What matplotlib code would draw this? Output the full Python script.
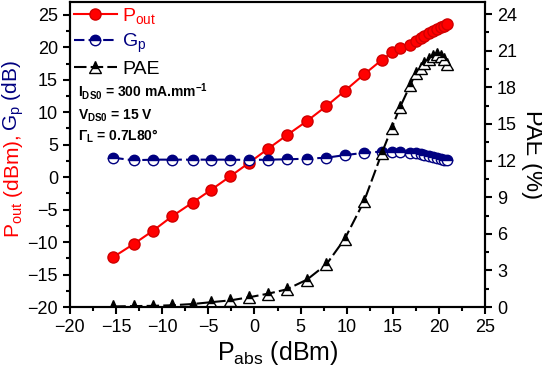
import matplotlib
matplotlib.use('Agg')
import matplotlib.pyplot as plt
from matplotlib.ticker import MultipleLocator

plt.rcParams['font.family'] = ['Liberation Sans', 'DejaVu Sans']
plt.rcParams['mathtext.fontset'] = 'custom'
plt.rcParams['mathtext.rm'] = 'Liberation Sans'
plt.rcParams['mathtext.it'] = 'Liberation Sans'
plt.rcParams['mathtext.bf'] = 'Liberation Sans:bold'

# datos
p_abs = [-15.3, -13.1, -11.0, -8.9, -6.7, -4.7, -2.6, -0.6, 1.5, 3.5, 5.7, 7.8, 9.8,
         11.9, 13.8, 14.9, 15.8, 16.9, 17.5, 18.0, 18.4, 18.9, 19.3, 19.8, 20.2, 20.5, 20.9]
p_out = [-12.3, -10.3, -8.25, -6.0, -3.9, -1.95, 0.15, 2.2, 4.4, 6.45, 8.65, 10.95, 13.3,
         15.85, 18.05, 19.2, 19.85, 20.4, 21.0, 21.4, 21.8, 22.15, 22.55, 22.85, 23.1, 23.35, 23.55]
g_p = [3.0, 2.6, 2.7, 2.7, 2.7, 2.7, 2.7, 2.65, 2.7, 2.75, 2.85, 3.0, 3.4,
       3.75, 3.95, 3.95, 3.9, 3.8, 3.65, 3.5, 3.35, 3.2, 3.05, 2.95, 2.8, 2.7, 2.6]
pae = [0.05, 0.08, 0.1, 0.15, 0.25, 0.4, 0.55, 0.8, 1.1, 1.45, 2.25, 3.5, 5.6,
       8.7, 12.6, 14.7, 16.4, 18.2, 19.2, 19.6, 20.0, 20.3, 20.6, 20.7, 20.6, 20.3, 19.9]

fig = plt.figure(figsize=(5.42, 3.66), dpi=100)
ax = fig.add_axes([0.129, 0.161, 0.766, 0.834])
ax2 = ax.twinx()

l1, = ax.plot(p_abs, p_out, color='red', lw=1.5, marker='o', ms=8,
              mfc='red', mec='#d00000', label='P$_{out}$')
l2, = ax.plot(p_abs, g_p, color='navy', lw=1.5, ls=(0, (5, 2)), marker='o', ms=7.5,
              fillstyle='top', mfc='navy', mfcalt='white', mec='navy', label='G$_p$')
l3, = ax2.plot(p_abs, pae, color='black', lw=1.5, ls=(0, (6, 2)), marker='^', ms=8,
               fillstyle='top', mfc='black', mfcalt='white', mec='black', label='PAE')

ax.set_xlim(-20, 25)
ax.set_ylim(-20, 27)
ax2.set_ylim(0, 25)
ax.xaxis.set_major_locator(MultipleLocator(5))
ax.xaxis.set_minor_locator(MultipleLocator(2.5))
ax.yaxis.set_major_locator(MultipleLocator(5))
ax.yaxis.set_minor_locator(MultipleLocator(2.5))
ax2.yaxis.set_major_locator(MultipleLocator(3))
ax2.yaxis.set_minor_locator(MultipleLocator(1.5))

for a in (ax, ax2):
    a.tick_params(which='major', length=5, width=1.5, labelsize=13)
    a.tick_params(which='minor', length=3, width=1.5)
    for s in a.spines.values():
        s.set_linewidth(1.5)

ax.set_xlabel('P$_{abs}$ (dBm)', fontsize=18, labelpad=2)
ax2.set_ylabel('PAE (%)', fontsize=17, rotation=-90, labelpad=19)

# etiqueta del eje izquierdo en dos colores
t_red = fig.text(0.025, 0.35, 'P$_{out}$ (dBm),', color='red', fontsize=15,
                 rotation=90, ha='center', va='bottom')
fig.canvas.draw()
bb = t_red.get_window_extent().transformed(fig.transFigure.inverted())
fig.text(0.025, bb.y1 + 0.01, 'G$_p$ (dB)', color='navy', fontsize=15,
         rotation=90, ha='center', va='bottom')

ax.legend(handles=[l1, l2, l3], loc='upper left', frameon=False, fontsize=14,
          labelcolor='linecolor', handlelength=2.2, handletextpad=0.3,
          borderaxespad=0.0, borderpad=0.2, labelspacing=0.3)

ax.text(0.02, 0.69, r'$\mathbf{I_{DS0}}$ = 300 mA.mm$^{\mathbf{-1}}$', transform=ax.transAxes,
        fontsize=10, fontweight='bold')
ax.text(0.02, 0.615, r'$\mathbf{V_{DS0}}$ = 15 V', transform=ax.transAxes,
        fontsize=10, fontweight='bold')
ax.text(0.02, 0.545, r'$\mathbf{\Gamma_{L}}$ = 0.7L80°', transform=ax.transAxes,
        fontsize=10, fontweight='bold')

fig.savefig('out.png', dpi=100)
